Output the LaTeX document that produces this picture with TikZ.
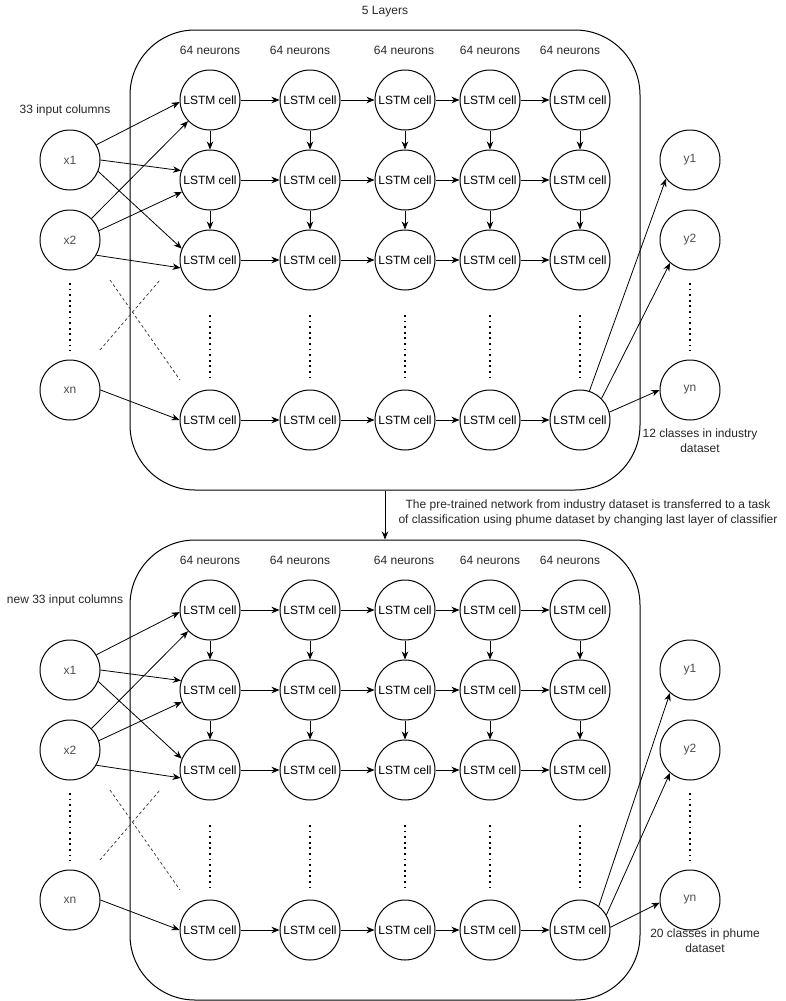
\documentclass[tikz,border=0pt]{standalone}
\usepackage{fontspec}
\setmainfont{Liberation Sans}
\usetikzlibrary{arrows.meta}
\tikzset{
  base/.style={font=\fontsize{12}{15}\selectfont},
  cell/.style={base, circle, draw, line width=1pt, minimum size=60pt, inner sep=0pt},
  io/.style={cell, text=black!70},
  lbl/.style={base, inner sep=0pt, align=center, text=black!85},
  panelbox/.style={draw, line width=1pt, rounded corners=65pt, minimum width=510pt, minimum height=460pt, inner sep=0pt},
  arr/.style={-{Stealth[length=8pt,width=6.5pt,inset=2.5pt]}, line width=0.8pt},
  dotline/.style={line width=1.8pt, dash pattern=on 1.8pt off 3.8pt},
  crossline/.style={line width=0.7pt, dash pattern=on 3pt off 2.5pt, black!80},
}
\newcommand\lstmpanel[8]{%
% #1 prefix, #2 yshift, #3 input label, #4 input label y, #5 output label, #6 output label x, #7 output arrows, #8 output label y
\begin{scope}[yshift=#2]
  \node[panelbox] (#1box) at (385,260) {};
  \foreach \c/\x/\lx in {1/210/210,2/310/300,3/405/404,4/490/490,5/580/570} {
    \foreach \r/\y in {1/100,2/180,3/260,4/420} {
      \node[cell] (#1c\r\c) at (\x,\y) {LSTM cell};
    }
    \node[lbl] (#1n\c) at (\lx,50) {64 neurons};
    \draw[dotline] (\x,315) -- (\x,381);
  }
  \foreach \c in {1,...,5} {
    \draw[arr] (#1c1\c) -- (#1c2\c);
    \draw[arr] (#1c2\c) -- (#1c3\c);
  }
  \foreach \r in {1,2,3,4} {
    \foreach \c/\n in {1/2,2/3,3/4,4/5} {
      \draw[arr] (#1c\r\c) -- (#1c\r\n);
    }
  }
  % inputs
  \node[io] (#1x1) at (70,160) {x1};
  \node[io] (#1x2) at (70,240) {x2};
  \node[io] (#1xn) at (70,390) {xn};
  \draw[dotline] (70,283) -- (70,351);
  \node[lbl] (#1inlbl) at (65,#4) {#3};
  \draw[arr] (#1x1.30) -- (#1c11.184);
  \draw[arr] (#1x1.0) -- (#1c21.162);
  \draw[arr] (#1x1.338) -- (#1c31.158);
  \draw[arr] (#1x2.45) -- (#1c11.224);
  \draw[arr] (#1x2.18) -- (#1c21.203);
  \draw[arr] (#1x2.330) -- (#1c31.195);
  \draw[arr] (#1xn.0) -- (#1c41.180);
  \draw[crossline] (110,280) -- (180,380);
  \draw[crossline] (100,350) -- (160,280);
  % outputs
  \node[io] (#1y1) at (690,160) {y1};
  \node[io] (#1y2) at (690,240) {y2};
  \node[io] (#1yn) at (690,390) {yn};
  \draw[dotline] (690,283) -- (690,351);
  \foreach \a/\b/\t in {#7} {
    \draw[arr] (#1c45.\a) -- (#1\t.\b);
  }
  \node[lbl] (#1outlbl) at (#6,#8) {#5};
\end{scope}}

\begin{document}
\begin{tikzpicture}[x=1pt,y=-1pt]
  \useasboundingbox (0,0) rectangle (786,1001);
  \node[lbl] (layers) at (385,12) {5 Layers};
  \lstmpanel{a}{0pt}{33 input columns}{110}{12 classes in industry\\dataset}{700}{72/218/y1,45/229/y2,15/180/yn}{440.5}
  \lstmpanel{b}{-510pt}{new 33 input columns}{90}{20 classes in phume\\dataset}{705}{52/229/y1,30/229/y2,5/185/yn}{430.5}
  \draw[arr] (abox.south) -- (bbox.north);
  \node[lbl] (transfer) at (588,512.5) {The pre-trained network from industry dataset is transferred to a task\\of classification using phume dataset by changing last layer of classifier};
\end{tikzpicture}
\end{document}
